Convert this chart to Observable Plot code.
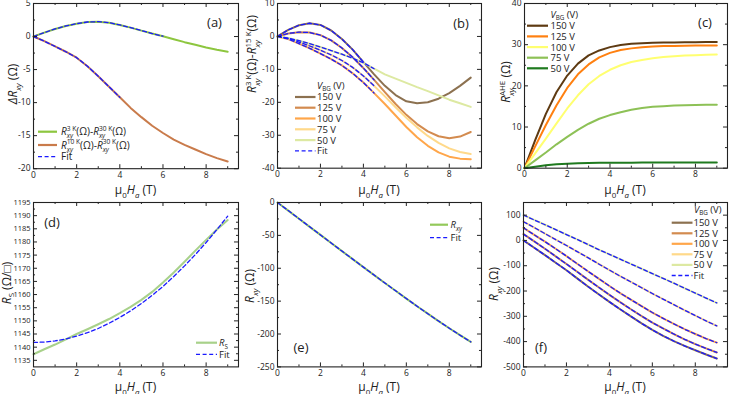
<!DOCTYPE html>
<html><head><meta charset="utf-8">
<script src="https://cdn.jsdelivr.net/npm/d3@7"></script>
<script src="https://cdn.jsdelivr.net/npm/@observablehq/plot@0.6"></script>
<style>
body{margin:0;background:#fff;}
#root{position:relative;width:729px;height:394px;overflow:hidden;font-family:"Open Sans",sans-serif;}
#root svg{position:absolute;overflow:visible;}
text{white-space:pre;}
</style></head><body><div id="root"></div>
<script>
// ---------- data ----------
const H = [0,0.5,1,1.5,2,2.5,3,3.5,4,4.5,5,5.5,6,6.5,7,7.5,8,8.5,9];
const xMajor = [0,2,4,6,8];
const xMinor = [1,3,5,7,9];
const vbg = ["150 V","125 V","100 V","75 V","50 V"];

// (a)
const a3K  = [0,0.6,1.15,1.6,1.95,2.2,2.25,2.1,1.75,1.35,0.9,0.45,0.05,-0.4,-0.85,-1.25,-1.65,-2.0,-2.3];
const a10K = [0,-0.7,-1.5,-2.3,-3.2,-4.5,-6.0,-7.6,-9.2,-10.8,-12.2,-13.5,-14.6,-15.6,-16.4,-17.1,-17.8,-18.4,-18.9];
const aFitEnd = [6, 4];

// (b)
const b150 = [0,2.0,3.4,4.0,3.5,1.8,-0.8,-4.0,-7.8,-11.5,-15.0,-17.8,-19.7,-20.3,-20.0,-18.9,-17.2,-15.0,-12.5];
const b125 = [0,0.9,1.3,1.2,0.4,-1.2,-3.5,-6.3,-9.6,-13.2,-16.9,-20.5,-23.8,-26.6,-28.8,-30.3,-30.9,-30.4,-29.0];
const b100 = [0,-0.8,-2.2,-3.6,-5.2,-6.9,-8.8,-11.2,-14.0,-17.2,-20.5,-24.0,-27.5,-30.6,-33.2,-35.2,-36.5,-37.1,-37.3];
const b75  = [0,-0.6,-1.7,-2.9,-4.2,-5.6,-7.3,-9.4,-12.0,-15.0,-18.2,-21.5,-24.7,-27.6,-30.2,-32.3,-34.0,-35.1,-35.7];
const b50  = [0,-0.5,-1.3,-2.2,-3.2,-4.3,-5.4,-6.6,-8.0,-9.8,-11.5,-12.8,-14.1,-15.4,-16.6,-17.9,-19.2,-20.3,-21.4];
const bFitEnd = [4.0, 4.5, 4.5, 4.5, 4.5];

// (c)
const c150 = [0,6.8,13.2,18.5,22.5,25.4,27.4,28.6,29.4,29.9,30.2,30.35,30.45,30.5,30.55,30.6,30.6,30.65,30.65];
const c125 = [0,5.3,10.5,15.3,19.5,22.8,25.2,26.9,28.0,28.7,29.1,29.4,29.55,29.65,29.7,29.75,29.8,29.8,29.8];
const c100 = [0,3.6,7.2,10.9,14.5,17.7,20.4,22.4,23.9,25.0,25.8,26.3,26.7,27.0,27.2,27.35,27.45,27.55,27.6];
const c75  = [0,1.9,3.8,5.8,7.6,9.3,10.8,12.0,12.9,13.6,14.2,14.6,14.9,15.05,15.2,15.3,15.35,15.4,15.4];
const c50  = [0,0.35,0.7,0.95,1.1,1.2,1.25,1.3,1.32,1.34,1.35,1.36,1.37,1.38,1.38,1.39,1.39,1.4,1.4];

// (d)
const dRs  = [1137.3,1139.2,1141.0,1143.0,1145.0,1146.8,1148.7,1150.7,1152.9,1155.3,1158.0,1161.0,1164.6,1168.4,1172.5,1176.7,1180.8,1184.7,1188.3];
const dFit = [1141.8,1141.95,1142.4,1143.1,1144.2,1145.5,1147.1,1149.1,1151.3,1153.8,1156.6,1159.7,1163.1,1166.9,1170.9,1175.2,1179.8,1184.7,1189.8];

// (e)
const eRxy = [0,-12.3,-24.6,-37.0,-49.3,-61.6,-73.9,-86.1,-98.3,-110.4,-122.4,-134.3,-146.1,-157.7,-169.1,-180.3,-191.2,-201.8,-212.0];

// (f)
const f150 = [0,-29,-58,-88,-118,-150,-182,-213,-243,-272,-300,-328,-354,-377,-398,-417,-434,-451,-467];
const f125 = [25,-4,-33,-63,-93,-124,-155,-185,-215,-244,-272,-299,-325,-348,-370,-391,-410,-427,-443];
const f100 = [50,22,-5,-33,-62,-92,-122,-151,-180,-208,-234,-260,-285,-308,-330,-351,-370,-388,-404];
const f75  = [74,51,27,3,-20,-44,-68,-93,-117,-141,-164,-187,-210,-232,-254,-276,-297,-318,-338];
const f50  = [100,81,62,43,23,4,-16,-36,-55,-74,-93,-112,-131,-150,-169,-189,-208,-228,-247];

// ---------- styles ----------
const FONT = "Open Sans";
const BLUE = "#1a1aff";
const colB = ["#8c7150","#d38b4f","#ffa64a","#ffd98a","#dde9a2"];
const colC = ["#5e3a12","#ff8010","#ffff70","#8dc156","#1f7a1f"];
const DASH = "4,2.6";

const root = document.getElementById("root");
const rows = (vals, s) => H.map((h, i) => ({h, v: vals[i], s}));
const upTo = (arr, end) => arr.filter(d => d.h <= end + 1e-9);
const fmt = d => String(d);

function panel(p) {
  const mL = 40, mR = 3, mT = 3, mB = 24;
  const w = p.x1 - p.x0, h = p.y1 - p.y0;
  const [xa, xb] = [0, 9.5], [ya, yb] = p.yDom;
  const st = {stroke: "#222", strokeWidth: 1};
  const marks = [
    ...p.marks,
    Plot.ruleX(xMajor, {x: d => d, y1: () => ya, y2: () => ya, insetBottom: 4, ...st}),
    Plot.ruleX(xMinor, {x: d => d, y1: () => ya, y2: () => ya, insetBottom: 2, ...st}),
    Plot.ruleX(xMajor, {x: d => d, y1: () => yb, y2: () => yb, insetTop: 4, ...st}),
    Plot.ruleX(xMinor, {x: d => d, y1: () => yb, y2: () => yb, insetTop: 2, ...st}),
    Plot.ruleY(p.yMaj, {y: d => d, x1: () => xa, x2: () => xa, insetLeft: 4, ...st}),
    Plot.ruleY(p.yMin, {y: d => d, x1: () => xa, x2: () => xa, insetLeft: 2, ...st}),
    Plot.ruleY(p.yMaj, {y: d => d, x1: () => xb, x2: () => xb, insetRight: 4, ...st}),
    Plot.ruleY(p.yMin, {y: d => d, x1: () => xb, x2: () => xb, insetRight: 2, ...st}),
    Plot.axisX(xMajor, {tickSize: 0, tickPadding: 3, label: null, fontSize: 8.5, tickFormat: fmt}),
    Plot.axisY(p.yMaj, {tickSize: 0, tickPadding: 3, label: null, fontSize: p.yFont || 8.5, tickFormat: fmt}),
    Plot.frame({stroke: "#222", strokeWidth: 1.1})
  ];
  const svg = Plot.plot({
    width: w + mL + mR, height: h + mT + mB,
    marginLeft: mL, marginRight: mR, marginTop: mT, marginBottom: mB,
    x: {domain: [xa, xb]},
    y: {domain: p.yDom},
    style: {fontFamily: FONT, fontSize: "8.5px", color: "#222", background: "transparent"},
    marks
  });
  svg.style.left = (p.x0 - mL) + "px";
  svg.style.top = (p.y0 - mT) + "px";
  root.appendChild(svg);
}

const dataLine = (data, color, w = 2) => Plot.line(data, {x: "h", y: "v", stroke: color, strokeWidth: w});
const fitLine = (data) => Plot.line(data, {x: "h", y: "v", stroke: BLUE, strokeWidth: 1.3, strokeDasharray: DASH});

// (a)
const A3 = rows(a3K, "3K"), A10 = rows(a10K, "10K");
panel({x0: 33, x1: 238, y0: 2.5, y1: 167.7, yDom: [-20, 5],
  yMaj: [-20,-15,-10,-5,0,5], yMin: [-17.5,-12.5,-7.5,-2.5,2.5],
  marks: [dataLine(A3, "#8dc63f"), dataLine(A10, "#c97b4b"),
          fitLine(upTo(A3, aFitEnd[0])), fitLine(upTo(A10, aFitEnd[1]))]});

// (b)
const Bs = [b150, b125, b100, b75, b50].map((v, i) => rows(v, vbg[i]));
panel({x0: 277, x1: 481, y0: 3, y1: 167.7, yDom: [-40, 10],
  yMaj: [-40,-30,-20,-10,0,10], yMin: [-35,-25,-15,-5,5],
  marks: [...Bs.map((d, i) => dataLine(d, colB[i])), ...Bs.map((d, i) => fitLine(upTo(d, bFitEnd[i])))]});

// (c)
const Cs = [c150, c125, c100, c75, c50].map((v, i) => rows(v, vbg[i]));
panel({x0: 524, x1: 727, y0: 3, y1: 167.7, yDom: [0, 40],
  yMaj: [0,10,20,30,40], yMin: [5,15,25,35],
  marks: Cs.map((d, i) => dataLine(d, colC[i]))});

// (d)
panel({x0: 33, x1: 238, y0: 202.3, y1: 366.7, yDom: [1132.5, 1195], yFont: 7.5,
  yMaj: d3.range(1135, 1196, 5), yMin: d3.range(1137.5, 1195, 5),
  marks: [dataLine(rows(dRs, "Rs"), "#a8d18a"), fitLine(rows(dFit, "fit"))]});

// (e)
panel({x0: 277, x1: 481, y0: 202.3, y1: 366.7, yDom: [-250, 0],
  yMaj: [-250,-200,-150,-100,-50,0], yMin: [-225,-175,-125,-75,-25],
  marks: [dataLine(rows(eRxy, "Rxy"), "#93c95a"), fitLine(rows(eRxy, "fit"))]});

// (f)
const Fs = [f150, f125, f100, f75, f50].map((v, i) => rows(v, vbg[i]));
panel({x0: 523, x1: 727, y0: 202.3, y1: 366.7, yDom: [-500, 150],
  yMaj: [-500,-400,-300,-200,-100,0,100], yMin: [-450,-350,-250,-150,-50,50],
  marks: [...Fs.map((d, i) => dataLine(d, colB[i])), ...Fs.map(d => fitLine(d))]});

// ---------- text overlay ----------
const ov = d3.select(root).append("svg").attr("width", 729).attr("height", 394)
  .style("left", "0px").style("top", "0px").attr("font-family", FONT);

function rich(x, y, parts, {size = 12, anchor = "start", rotate = false} = {}) {
  const t = ov.append("text").attr("font-size", size).attr("fill", "#222").attr("text-anchor", anchor);
  if (rotate) t.attr("transform", `translate(${x},${y}) rotate(-90)`); else t.attr("x", x).attr("y", y);
  let base = 0, extra = 0;
  for (const [txt, style = ""] of parts) {
    const s = style.split(" ");
    if (s.includes("stack")) {
      const ss = size * 0.66;
      const up = -size * 0.42, dn = size * 0.3;
      const a = t.append("tspan").attr("font-size", ss).attr("dy", up - base).text(txt[0]);
      if (extra) a.attr("dx", extra);
      const wa = a.node().getComputedTextLength();
      const b = t.append("tspan").attr("font-size", ss).attr("font-style", "italic")
        .attr("dx", -wa).attr("dy", dn - up).text(txt[1]);
      const wb = b.node().getComputedTextLength();
      base = dn; extra = Math.max(0, wa - wb);
      continue;
    }
    let target = 0, fs = size;
    if (s.includes("sub")) { target = size * 0.3; fs = size * 0.66; }
    if (s.includes("sup")) { target = -size * 0.42; fs = size * 0.66; }
    const sp = t.append("tspan").attr("font-size", fs).attr("dy", target - base).text(txt);
    if (extra) sp.attr("dx", extra);
    if (s.includes("i")) sp.attr("font-style", "italic");
    extra = 0; base = target;
  }
  return t;
}

const xTitle = [["μ"],["0","sub"],["H","i"],["a","sub i"],[" (T)"]];
[[135.5, 194], [379, 194], [625, 194], [135.5, 391], [379, 391], [625, 391]]
  .forEach(([x, y]) => rich(x, y, xTitle, {anchor: "middle"}));

rich(17, 84, [["Δ","i"],["R","i"],["xy","sub i"],[" (Ω)"]], {rotate: true, anchor: "middle"});
rich(256, 54, [["R","i"],[["3 K","xy"],"stack"],["(Ω)-"],["R","i"],[["15 K","xy"],"stack"],["(Ω)"]], {rotate: true, anchor: "middle"});
rich(510, 82, [["R","i"],[["AHE","xy"],"stack"],[" (Ω)"]], {rotate: true, anchor: "middle"});
rich(10.5, 283, [["R","i"],["S","sub"],[" (Ω/□)"]], {rotate: true, anchor: "middle"});
rich(254, 286, [["R","i"],["xy","sub i"],[" (Ω)"]], {rotate: true, anchor: "middle"});
rich(498, 284, [["R","i"],["xy","sub i"],[" (Ω)"]], {rotate: true, anchor: "middle"});

// panel labels
[["(a)", 214.5, 26.5], ["(b)", 461, 27.5], ["(c)", 705, 26.5], ["(d)", 52, 226.5], ["(e)", 301, 351.5], ["(f)", 541, 351.5]]
  .forEach(([s, x, y]) => ov.append("text").attr("x", x).attr("y", y).attr("text-anchor", "middle")
    .attr("font-size", 13).attr("fill", "#222").text(s));

// legends
function swatch(x1, x2, y, color, dashed) {
  const l = ov.append("line").attr("x1", x1).attr("x2", x2).attr("y1", y).attr("y2", y)
    .attr("stroke", color).attr("stroke-width", dashed ? 1.3 : 2.2);
  if (dashed) l.attr("stroke-dasharray", DASH);
}
function legend(x1, x2, tx, ys, items, size = 10) {
  items.forEach((it, i) => {
    swatch(x1, x2, ys[i], it.color, it.dashed);
    rich(tx, ys[i] + size * 0.36, it.parts, {size});
  });
}
// (a)
legend(38, 57, 61, [131.7, 145, 156.7], [
  {color: "#8dc63f", parts: [["R","i"],[["3 K","xy"],"stack"],["(Ω)-"],["R","i"],[["30 K","xy"],"stack"],["(Ω)"]]},
  {color: "#c97b4b", parts: [["R","i"],[["10 K","xy"],"stack"],["(Ω)-"],["R","i"],[["30 K","xy"],"stack"],["(Ω)"]]},
  {color: BLUE, dashed: true, parts: [["Fit"]]}
], 10);
const vHead = [["V","i"],["BG","sub"],[" (V)"]];
// (b)
rich(317, 88.5, vHead, {size: 9.5});
legend(295, 315.5, 317, [97, 107.7, 118.5, 129.3, 140.1, 150.8],
  [...vbg.map((s, i) => ({color: colB[i], parts: [[s]]})), {color: BLUE, dashed: true, parts: [["Fit"]]}], 9.5);
// (c)
rich(550.5, 17.5, vHead, {size: 9.5});
legend(527, 548, 550.5, [25.7, 36.4, 47.1, 57.7, 68.3],
  vbg.map((s, i) => ({color: colC[i], parts: [[s]]})), 9.5);
// (d)
legend(196, 217, 219, [342.7, 354.3], [
  {color: "#a8d18a", parts: [["R","i"],["S","sub"]]},
  {color: BLUE, dashed: true, parts: [["Fit"]]}], 9.5);
// (e)
legend(430, 448, 450.5, [224.7, 237.7], [
  {color: "#93c95a", parts: [["R","i"],["xy","sub i"]]},
  {color: BLUE, dashed: true, parts: [["Fit"]]}], 9.5);
// (f)
rich(694, 212.5, vHead, {size: 9.5});
legend(671.7, 692.5, 693.5, [222.7, 233.3, 243.8, 254.3, 264.9, 275.5],
  [...vbg.map((s, i) => ({color: colB[i], parts: [[s]]})), {color: BLUE, dashed: true, parts: [["Fit"]]}], 9.5);
</script>
</body></html>
